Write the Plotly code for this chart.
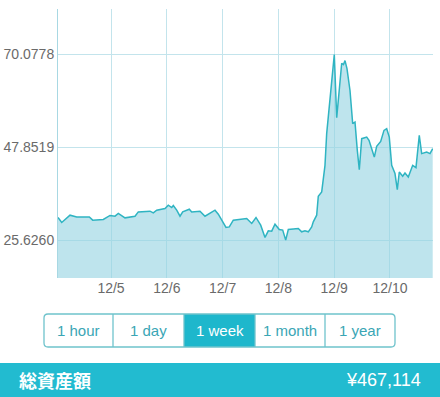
import plotly.graph_objects as go

# hours since 12/4 00:00
hours = [1.20, 2.80, 6.37, 9.25, 14.67, 16.13, 20.69, 23.57, 25.72, 27.14, 30.02, 34.32, 35.74,
         40.77, 42.19, 43.66, 47.23, 48.65, 50.11, 50.80, 52.26, 53.68, 54.84, 57.68, 58.71,
         62.28, 64.43, 66.58, 68.73, 70.15, 71.61, 73.46, 74.88, 76.60, 82.37, 84.52, 86.37,
         88.39, 90.24, 91.66, 93.12, 94.54, 96.39, 97.85, 99.14, 100.26, 104.56, 106.02,
         107.44, 108.86, 110.32, 111.01, 112.47, 113.16, 114.62, 116.04, 116.77, 117.89,
         118.92, 120.04, 121.08, 122.19, 123.23, 124.00, 124.65, 125.50, 126.80, 127.96,
         128.95, 129.94, 130.80, 131.83, 133.98, 134.97, 136.13, 137.25, 138.28, 140.00,
         141.42, 142.58, 143.70, 144.73, 146.15, 147.14, 148.00, 149.46, 150.45, 151.87,
         153.76, 155.18, 156.60, 157.63, 159.78, 161.20, 162.37]
values = [31.05, 29.86, 31.60, 31.19, 31.19, 30.41, 30.57, 31.53, 31.36, 32.01, 30.96, 31.36, 32.39,
          32.56, 32.15, 32.80, 33.20, 33.99, 33.44, 33.92, 32.80, 31.36, 32.39, 33.03, 32.39,
          32.56, 31.36, 32.01, 32.80, 31.84, 30.41, 28.66, 28.80, 30.41, 30.81, 29.62, 31.05,
          29.21, 26.27, 27.85, 27.78, 29.45, 28.18, 28.02, 25.626, 28.18, 28.42, 27.61,
          27.85, 27.61, 28.80, 30.00, 31.60, 36.14, 37.17, 43.55, 51.13, 57.48,
          63.08, 70.0778, 54.95, 61.47, 68.00, 67.69, 68.64, 66.73, 61.47, 53.52,
          53.90, 47.14, 42.52, 49.93, 50.31, 49.52, 47.54, 45.53, 48.09, 49.29,
          51.92, 52.32, 50.31, 43.55, 41.57, 37.74, 41.95, 40.92, 41.71, 40.75,
          43.55, 43.00, 50.72, 46.35, 46.73, 46.35, 47.54]

day_ticks = [24, 48, 72, 96, 120, 144]
day_labels = ["12/5", "12/6", "12/7", "12/8", "12/9", "12/10"]
y_ticks = [25.6260, 47.8519, 70.0778]
y_labels = ["25.6260", "47.8519", "70.0778"]
buttons = ["1 hour", "1 day", "1 week", "1 month", "1 year"]
selected = "1 week"
total_label = "総資産額"
total_value = "¥467,114"

W, H = 440, 397
L, R, T, B = 58, 433, 9, 278

def px(x):
    return (x - L) / (R - L)

def py(y):
    return (B - y) / (B - T)

fig = go.Figure()
fig.add_trace(go.Scatter(
    x=hours, y=values, mode="lines",
    line=dict(color="#2fb4c2", width=1.5),
    fill="tozeroy", fillcolor="rgba(150,212,226,0.62)",
    hoverinfo="skip", showlegend=False,
))

grid = "#c3e4ec"
tfont = dict(family="Liberation Sans, Arial", size=14, color="#6a6a6a")
fig.update_xaxes(
    range=[1.2, 162.5], tickvals=day_ticks, ticktext=day_labels,
    showgrid=True, gridcolor=grid, gridwidth=1, zeroline=False, automargin=False,
    showline=False, ticks="", tickfont=tfont,
)
fig.update_yaxes(
    range=[16.55, 81.0], tickvals=y_ticks, ticktext=y_labels,
    showgrid=True, gridcolor=grid, gridwidth=1, zeroline=False, automargin=False,
    showline=True, linecolor="#a8d8e3", linewidth=1, ticks="", ticklabelstandoff=0,
    tickfont=tfont,
)

shapes = []
annotations = []
# buttons
bx = [44, 113, 184, 255, 325, 395]
by0, by1 = 314, 347
teal = "#1eb7cc"
for i, name in enumerate(buttons):
    if name == selected:
        shapes.append(dict(type="rect", xref="paper", yref="paper",
                           x0=px(bx[i]), x1=px(bx[i + 1]), y0=py(by1), y1=py(by0),
                           fillcolor=teal, line=dict(width=0), layer="above"))
    annotations.append(dict(xref="paper", yref="paper",
                            x=px((bx[i] + bx[i + 1]) / 2), y=py((by0 + by1) / 2),
                            text=name, showarrow=False, xanchor="center", yanchor="middle",
                            font=dict(family="Liberation Sans, Arial", size=15,
                                      color="white" if name == selected else "#3aa6b5")))
# border rounded
r = 4
x0, x1, y0, y1 = bx[0], bx[-1], by0, by1
path = (f"M {px(x0 + r)},{py(y0)} L {px(x1 - r)},{py(y0)} Q {px(x1)},{py(y0)} {px(x1)},{py(y0 + r)} "
        f"L {px(x1)},{py(y1 - r)} Q {px(x1)},{py(y1)} {px(x1 - r)},{py(y1)} "
        f"L {px(x0 + r)},{py(y1)} Q {px(x0)},{py(y1)} {px(x0)},{py(y1 - r)} "
        f"L {px(x0)},{py(y0 + r)} Q {px(x0)},{py(y0)} {px(x0 + r)},{py(y0)} Z")
shapes.append(dict(type="path", xref="paper", yref="paper", path=path,
                   line=dict(color="#6fc3cc", width=1.3), layer="above"))
for xx in bx[1:-1]:
    shapes.append(dict(type="line", xref="paper", yref="paper",
                       x0=px(xx), x1=px(xx), y0=py(by0), y1=py(by1),
                       line=dict(color="#6fc3cc", width=1.3), layer="above"))
# bottom bar
shapes.append(dict(type="rect", xref="paper", yref="paper",
                   x0=px(-5), x1=px(W + 5), y0=py(H + 5), y1=py(363),
                   fillcolor="#22bbd0", line=dict(width=0), layer="above"))
annotations.append(dict(xref="paper", yref="paper", x=px(17), y=py(380),
                        text=f"<b>{total_label}</b>", showarrow=False,
                        xanchor="left", yanchor="middle",
                        font=dict(family="Noto Sans CJK JP", size=18, color="white")))
annotations.append(dict(xref="paper", yref="paper", x=px(423), y=py(380),
                        text=total_value, showarrow=False,
                        xanchor="right", yanchor="middle",
                        font=dict(family="Liberation Sans, Arial", size=18, color="white")))

fig.update_layout(
    width=W, height=H, margin=dict(l=L, r=W - R, t=T, b=H - B, autoexpand=False),
    paper_bgcolor="white", plot_bgcolor="white",
    shapes=shapes, annotations=annotations,
)
fig.write_html("out.html")
